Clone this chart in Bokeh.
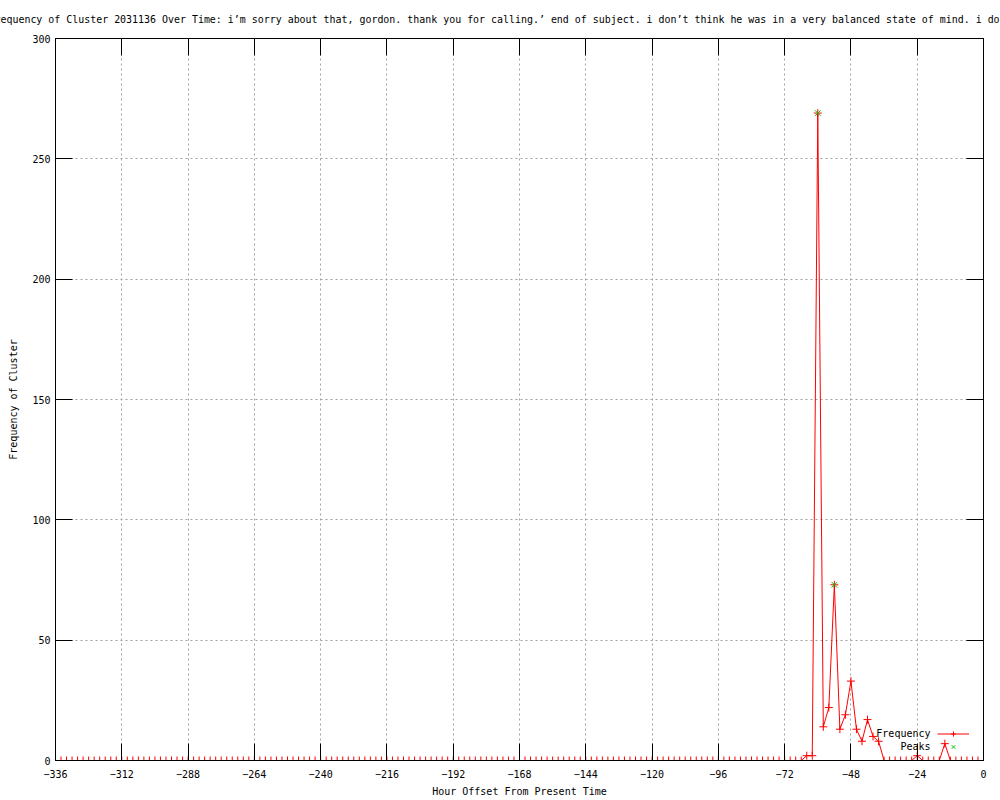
from bokeh.plotting import figure
from bokeh.models import (FixedTicker, LinearAxis, Legend, LegendItem, Label, Title,
                          ColumnDataSource, Range1d, CustomJSTickFormatter)
from bokeh.embed import file_html
from bokeh.resources import INLINE

FONT = "DejaVu Sans Mono"

TITLE = ("Frequency of Cluster 2031136 Over Time: i\u2019m sorry about that, gordon. "
         "thank you for calling.\u2019 end of subject. i don\u2019t think he was in a "
         "very balanced state of mind. i do")
X_LABEL = "Hour Offset From Present Time"
Y_LABEL = "Frequency of Cluster"
SERIES = ["Frequency", "Peaks"]

# hour offsets, every 2 hours from -336 to 0
hours = list(range(-336, 1, 2))

# frequency at each hour offset
freq = [
    0, 0, 0, 0, 0, 0, 0, 0, 0, 0, 0, 0, 0, 0, 0, 0, 0,
    0, 0, 0, 0, 0, 0, 0, 0, 0, 0, 0, 0, 0, 0, 0, 0, 0,
    0, 0, 0, 0, 0, 0, 0, 0, 0, 0, 0, 0, 0, 0, 0, 0, 0,
    0, 0, 0, 0, 0, 0, 0, 0, 0, 0, 0, 0, 0, 0, 0, 0, 0,
    0, 0, 0, 0, 0, 0, 0, 0, 0, 0, 0, 0, 0, 0, 0, 0, 0,
    0, 0, 0, 0, 0, 0, 0, 0, 0, 0, 0, 0, 0, 0, 0, 0, 0,
    0, 0, 0, 0, 0, 0, 0, 0, 0, 0, 0, 0, 0, 0, 0, 0, 0,
    0, 0, 0, 0, 0, 0, 0, 0, 0, 0, 0, 0, 0, 0, 0, 0, 0,
    2, 2, 269, 14, 22, 73, 13, 19, 33, 13, 8, 17, 10, 8,
    0, 0, 0, 0, 0, 0,
    2,
    0, 0, 0, 0,
    7,
    0, 0, 0, 0, 0, 0, 0,
]
assert len(freq) == len(hours)

peak_hours = [-60, -54]
peak_freq = [269, 73]

x_ticks = [-336, -312, -288, -264, -240, -216, -192, -168, -144, -120,
           -96, -72, -48, -24, 0]
y_ticks = [0, 50, 100, 150, 200, 250, 300]

p = figure(width=1000, height=800, x_range=Range1d(-336, 0), y_range=Range1d(0, 300),
           output_backend="svg", toolbar_location=None, title=None,
           min_border_left=55, min_border_right=17, min_border_top=38,
           min_border_bottom=40)
p.background_fill_color = "white"
p.border_fill_color = "white"
p.outline_line_color = "black"
p.outline_line_width = 1


def style_axis(ax, ticks):
    ax.ticker = FixedTicker(ticks=ticks)
    ax.axis_line_color = "black"
    ax.major_tick_line_color = "black"
    ax.major_tick_in = 17
    ax.major_tick_out = 0
    ax.minor_tick_line_color = None
    ax.major_label_text_font = FONT
    ax.major_label_text_font_size = "10px"
    ax.major_label_text_color = "black"
    ax.axis_label_text_font = FONT
    ax.axis_label_text_font_size = "10px"
    ax.axis_label_text_font_style = "normal"
    ax.axis_label_text_color = "black"


xa = p.xaxis[0]
style_axis(xa, x_ticks)
xa.axis_label = X_LABEL
xa.major_label_standoff = 9
xa.axis_label_standoff = 5

ya = p.yaxis[0]
style_axis(ya, y_ticks)
ya.axis_label = Y_LABEL
ya.major_label_standoff = 5
ya.axis_label_standoff = 10

for g, t in ((p.xgrid[0], x_ticks), (p.ygrid[0], y_ticks)):
    g.ticker = FixedTicker(ticks=t)
    g.grid_line_color = "#a0a0a0"
    g.grid_line_dash = "2 3"
    g.grid_line_width = 1

# mirrored ticks on the top and right borders (no labels)
blank = CustomJSTickFormatter(code="return '';")
top_ax = LinearAxis()
style_axis(top_ax, x_ticks)
top_ax.formatter = blank
top_ax.major_label_standoff = 0
top_ax.axis_line_color = None
p.add_layout(top_ax, "above")

right_ax = LinearAxis()
style_axis(right_ax, y_ticks)
right_ax.formatter = blank
right_ax.major_label_standoff = 0
right_ax.axis_line_color = None
p.add_layout(right_ax, "right")

# title (wider than the page, cut at both edges as in the original)
p.add_layout(Title(text=TITLE, align="left", offset=-67, vertical_align="top",
                   standoff=24, text_font=FONT, text_font_size="9.95px",
                   text_font_style="normal", text_color="black"), "above")

src = ColumnDataSource(dict(hours=hours, freq=freq))
ln = p.line("hours", "freq", source=src, line_color="red", line_width=1)
pts = p.scatter("hours", "freq", source=src, marker="cross", size=8,
                line_color="red", line_width=1)
pk = p.scatter(peak_hours, peak_freq, marker="x", size=8,
               line_color="#00c000", line_width=1)

# legend samples (gnuplot style: text on the left, sample on the right)
legend = Legend(items=[LegendItem(label=" ", renderers=[ln, pts]),
                       LegendItem(label=" ", renderers=[pk])],
                location=(882, 7), background_fill_alpha=0, border_line_color=None,
                padding=0, margin=0, spacing=0, glyph_width=32, glyph_height=13,
                label_height=13, label_standoff=0, label_width=1,
                label_text_font=FONT, label_text_font_size="10px")
p.add_layout(legend)

for txt, yy in zip(SERIES, (27, 14)):
    p.add_layout(Label(x=875, y=yy, x_units="screen", y_units="screen", text=txt,
                       text_align="right", text_baseline="middle", text_font=FONT,
                       text_font_size="10px", text_color="black"))

open("out.html", "w").write(file_html(p, INLINE))
